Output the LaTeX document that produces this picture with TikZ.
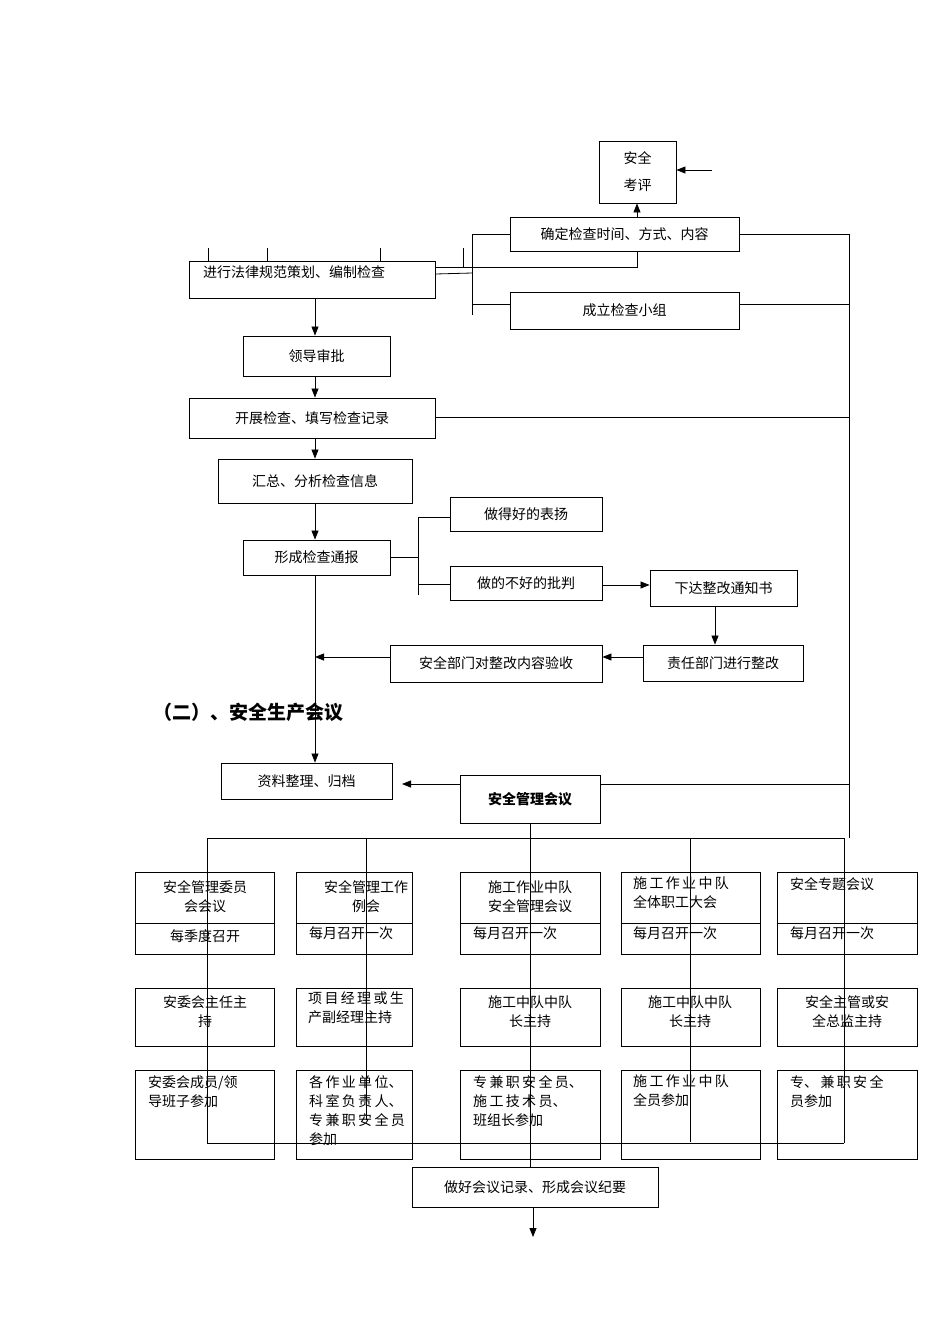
\documentclass[tikz,border=0pt]{standalone}
\usepackage{fontspec}
\setmainfont{Noto Sans CJK SC}
\newfontfamily\hd{Noto Sans CJK SC}
\usetikzlibrary{arrows.meta}
\tikzset{box/.style={draw,line width=0.9pt,inner sep=0pt,font=\fontsize{14}{19}\selectfont,align=center},
 ln/.style={line width=0.8pt},
 ar/.style={line width=0.8pt,-{Triangle[length=9pt,width=7pt]}},
 tx/.style={font=\fontsize{14}{19}\selectfont,align=left,inner sep=0pt,anchor=north west}}
\newcommand\bx[6]{\node[box,minimum width={#4-#2},minimum height={#5-#3}] (#1) at ({(#2+#4)/2},{(#3+#5)/2}) {#6};}
\begin{document}
\begin{tikzpicture}[x=1pt,y=-1pt]
\useasboundingbox (0,0) rectangle (950,1344);
% top section
\bx{kp}{599}{141}{676}{203}{安全\\[8pt]考评}
\bx{qd}{510}{217}{739}{251}{确定检查时间、方式、内容}
\bx{jx}{189}{261}{435}{298}{}
\node[tx] at (203,265) {进行法律规范策划、编制检查};
\bx{cl}{510}{292}{739}{329}{成立检查小组}
\bx{ld}{243}{336}{390}{376}{领导审批}
\bx{kz}{189}{398}{435}{438}{开展检查、填写检查记录}
\bx{hz}{218}{459}{412}{503}{汇总、分析检查信息}
\bx{xc}{243}{540}{390}{575}{形成检查通报}
\bx{zd}{450}{497}{602}{531}{做得好的表扬}
\bx{zb}{450}{566}{602}{600}{做的不好的批判}
\bx{xd}{650}{570}{797}{606}{下达整改通知书}
\bx{zr}{643}{645}{803}{681}{责任部门进行整改}
\bx{ys}{390}{645}{602}{682}{安全部门对整改内容验收}
\bx{zl}{221}{763}{392}{799}{资料整理、归档}
\bx{hy}{460}{775}{600}{823}{\bfseries 安全管理会议}
\node[font=\hd\bfseries\fontsize{19}{22}\selectfont,anchor=west] (title) at (150,712) {（二）、安全生产会议};
\coordinate (ain) at (712,170);
\draw[ar] (ain) -- (kp.east|-ain);
\draw[ar] (qd.north-|637,0) -- (kp.south-|637,0);
\foreach \x in {208,267,380} \draw[ln] (\x,248) -- (\x,261);
\draw[ln] (463,248) -- (463,268);
\draw[ln] (jx.east|-0,267) -- (637,267) -- (qd.south-|637,0);
\draw[ln] (jx.east|-0,274) -- (472,273);
\draw[ln] (472,234) -- (472,315);
\draw[ln] (472,234) -- (qd.west|-0,234);
\draw[ln] (472,304) -- (cl.west|-0,304);
\draw[ln] (849,234) -- (849,838);
\draw[ln] (qd.east|-0,234) -- (849,234);
\draw[ln] (cl.east|-0,304) -- (849,304);
\draw[ln] (kz.east|-0,417) -- (849,417);
\draw[ln] (hy.east|-0,784) -- (849,784);
\draw[ar] (jx.south-|315,0) -- (ld.north-|315,0);
\draw[ar] (ld.south-|315,0) -- (kz.north-|315,0);
\draw[ar] (kz.south-|315,0) -- (hz.north-|315,0);
\draw[ar] (hz.south-|315,0) -- (xc.north-|315,0);
\draw[ln] (xc.east|-0,557) -- (418,557);
\draw[ln] (418,517) -- (418,595);
\draw[ln] (418,517) -- (zd.west|-0,517);
\draw[ln] (418,584) -- (zb.west|-0,584);
\draw[ar] (zb.east|-0,585) -- (xd.west|-0,585);
\draw[ar] (xd.south-|715,0) -- (zr.north-|715,0);
\draw[ar] (zr.west|-0,657) -- (ys.east|-0,657);
\coordinate (mrg) at (315,657);
\draw[ar] (ys.west|-0,657) -- (mrg);
\draw[ar] (xc.south-|315,0) -- (zl.north-|315,0);
\draw[ar] (hy.west|-0,784) -- (402,784);
% meeting columns
\draw[ln] (hy.south-|530,0) -- (530,838);
\draw[ln] (207,838) -- (844,838);
\foreach \a/\b/\c/\x/\e in {135/274/c1/207/1143,296/412/c2/366/1120,460/600/c3/530/1167,621/760/c4/690/1142,777/917/c5/844/1143}{
  \draw[ln] (\x,838) -- (\x,\e);
}
\draw[ln] (207,1143) -- (844,1143);
\foreach \a/\b/\n in {135/274/1,296/412/2,460/600/3,621/760/4,777/917/5}{
  \draw[line width=0.9pt] (\a,872) rectangle (\b,954);
  \draw[line width=0.9pt] (\a,923) -- (\b,923);
  \draw[line width=0.9pt] (\a,988) rectangle (\b,1046);
  \draw[line width=0.9pt] (\a,1070) rectangle (\b,1159);
}
\node[box,draw=none] at (205,897) {安全管理委员\\会会议};
\node[box,draw=none] at (366,897) {安全管理工作\\例会};
\node[box,draw=none] at (530,897) {施工作业中队\\安全管理会议};
\node[tx] at (633,877) {施\,工\,作\,业\,中\,队\\全体职工大会};
\node[tx] at (790,877) {安全专题会议};
\node[box,draw=none] at (205,936) {每季度召开};
\node[tx] at (309,926) {每月召开一次};
\node[tx] at (473,926) {每月召开一次};
\node[tx] at (633,926) {每月召开一次};
\node[tx] at (790,926) {每月召开一次};
\node[box,draw=none] at (205,1012) {安委会主任主\\持};
\node[tx] at (308,992) {项\,目\,经\,理\,或\,生\\产副经理主持};
\node[box,draw=none] at (530,1012) {施工中队中队\\长主持};
\node[box,draw=none] at (690,1012) {施工中队中队\\长主持};
\node[box,draw=none] at (847,1012) {安全主管或安\\全总监主持};
\node[tx] at (148,1075) {安委会成员/领\\导班子参加};
\node[tx] at (309,1075) {各\,作\,业\,单\,位、\\科\,室\,负\,责\,人、\\专\,兼\,职\,安\,全\,员\\参加};
\node[tx] at (473,1075) {专\,兼\,职\,安\,全\,员、\\施\,工\,技\,术\,员、\\班组长参加};
\node[tx] at (633,1075) {施\,工\,作\,业\,中\,队\\全员参加};
\node[tx] at (790,1075) {专、\,兼\,职\,安\,全\\员参加};
\bx{jl}{412}{1167}{658}{1207}{做好会议记录、形成会议纪要}
\coordinate (endp) at (533,1237);
\draw[ar] (jl.south-|533,0) -- (endp);
\end{tikzpicture}
\end{document}
